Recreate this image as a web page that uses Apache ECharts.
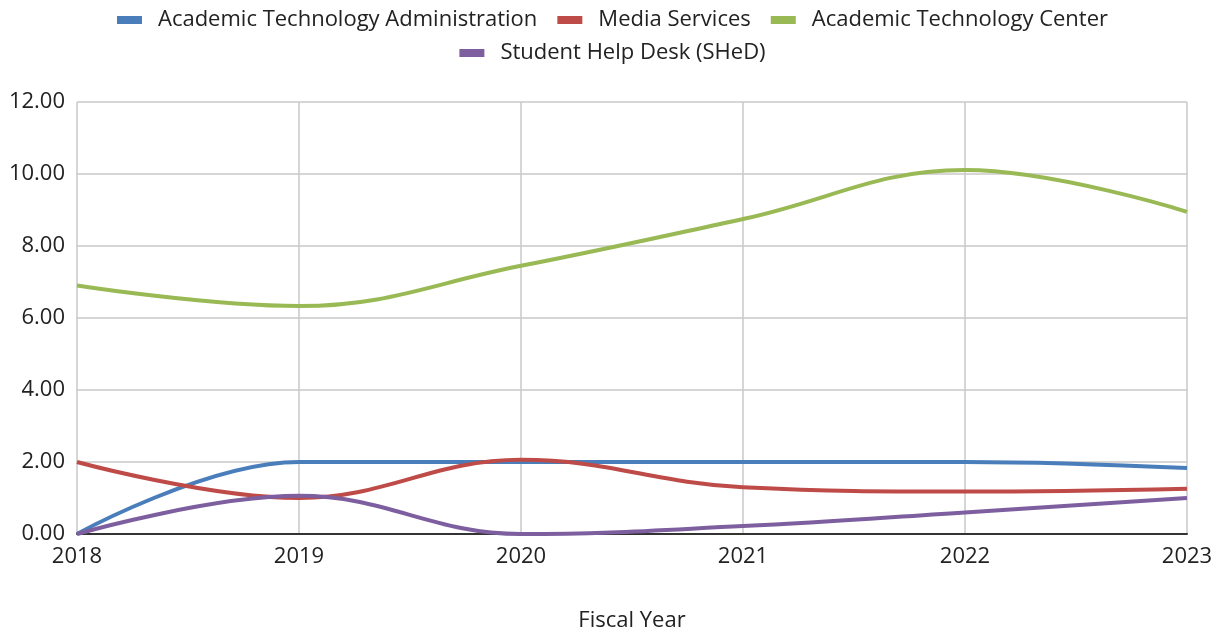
<!DOCTYPE html>
<html>
<head>
<meta charset="utf-8">
<script src="https://cdn.jsdelivr.net/npm/echarts@6/dist/echarts.min.js"></script>
<style>
  html, body { margin: 0; padding: 0; background: #fff; }
  #chart { width: 1225px; height: 637px; }
</style>
</head>
<body>
<div id="chart"></div>
<script>
// Fiscal years along the x axis
const years = ["2018", "2019", "2020", "2021", "2022", "2023"]

// Values
const academicTechAdmin = [0, 2.0, 2.0, 2.0, 2.0, 1.83]
const mediaServices = [2.0, 1.0, 2.06, 1.3, 1.18, 1.26]
const academicTechCenter = [6.9, 6.33, 7.45, 8.75, 10.11, 8.95]
const studentHelpDesk = [0, 1.06, 0, 0.22, 0.6, 1.0]

const FONT = "'Open Sans', sans-serif"

const chart = echarts.init(document.getElementById("chart"), null, { renderer: "canvas" })

const line = (name, data, color) => ({
  name,
  type: "line",
  data,
  smooth: 0.4,
  symbol: "none",
  lineStyle: { color, width: 4 },
  itemStyle: { color },
})

const legendBase = {
  icon: "rect",
  itemWidth: 25,
  itemHeight: 8,
  itemGap: 20,
  textStyle: { color: "#222", fontSize: 22, fontFamily: FONT, padding: [0, 0, 0, 11] },
}

chart.setOption({
  backgroundColor: "#fff",
  animation: false,
  legend: [
    { ...legendBase, top: 4, left: "center",
      data: ["Academic Technology Administration", "Media Services", "Academic Technology Center"] },
    { ...legendBase, top: 37, left: "center", data: ["Student Help Desk (SHeD)"] },
  ],
  grid: { left: 77, right: 38, top: 102, bottom: 102, containLabel: false },
  xAxis: {
    type: "category",
    data: years,
    boundaryGap: false,
    name: "Fiscal Year",
    nameLocation: "middle",
    nameGap: 76,
    nameTextStyle: { color: "#222", fontSize: 22, fontFamily: FONT },
    axisLine: { lineStyle: { color: "#333", width: 2 } },
    axisTick: { show: false },
    axisLabel: { color: "#222", fontSize: 22, fontFamily: FONT, margin: 12,
      showMinLabel: true, showMaxLabel: true },
    splitLine: { show: true, lineStyle: { color: "#c8c8c8", width: 1.5 } },
  },
  yAxis: {
    type: "value",
    min: 0,
    max: 12,
    interval: 2,
    axisLine: { show: false },
    axisTick: { show: false },
    axisLabel: { color: "#222", fontSize: 22, fontFamily: FONT, margin: 12,
      formatter: (v) => v.toFixed(2) },
    splitLine: { lineStyle: { color: "#c8c8c8", width: 1.5 } },
  },
  series: [
    line("Academic Technology Administration", academicTechAdmin, "#4a7ebb"),
    line("Media Services", mediaServices, "#be4b48"),
    line("Academic Technology Center", academicTechCenter, "#98b954"),
    line("Student Help Desk (SHeD)", studentHelpDesk, "#7d5fa0"),
  ],
})
</script>
</body>
</html>
